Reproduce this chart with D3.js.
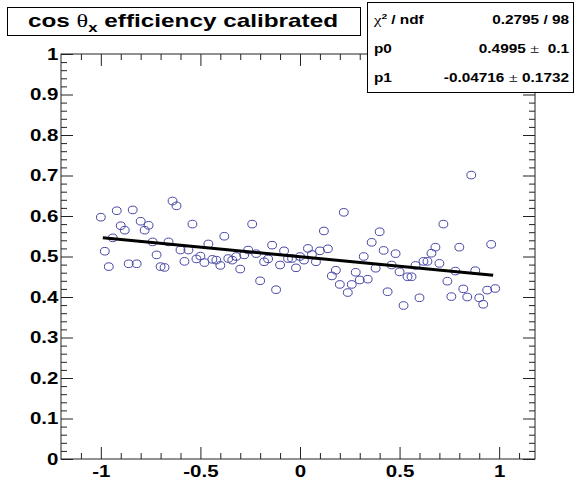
<!DOCTYPE html>
<html>
<head>
<meta charset="utf-8">
<script src="https://cdn.jsdelivr.net/npm/d3@7"></script>
<style>
    body { margin: 0; background: #fff; }
    text { font-family: "Liberation Sans", Arial, sans-serif; font-weight: bold; }
    .sym { font-family: "Liberation Serif", "DejaVu Serif", serif; font-weight: normal; }
</style>
</head>
<body>
<div id="chart"></div>
<script>
"use strict";

// efficiency points, x = cos(theta_x) bin centre
const xValues = [
    -1, -0.98, -0.96, -0.94, -0.92, -0.9, -0.88, -0.86, -0.84, -0.82,
    -0.8, -0.78, -0.76, -0.74, -0.72, -0.7, -0.68, -0.66, -0.64, -0.62,
    -0.6, -0.58, -0.56, -0.54, -0.52, -0.5, -0.48, -0.46, -0.44, -0.42,
    -0.4, -0.38, -0.36, -0.34, -0.32, -0.3, -0.28, -0.26, -0.24, -0.22,
    -0.2, -0.18, -0.16, -0.14, -0.12, -0.1, -0.08, -0.06, -0.04, -0.02,
    0, 0.02, 0.04, 0.06, 0.08, 0.1, 0.12, 0.14, 0.16, 0.18,
    0.2, 0.22, 0.24, 0.26, 0.28, 0.3, 0.32, 0.34, 0.36, 0.38,
    0.4, 0.42, 0.44, 0.46, 0.48, 0.5, 0.52, 0.54, 0.56, 0.58,
    0.6, 0.62, 0.64, 0.66, 0.68, 0.7, 0.72, 0.74, 0.76, 0.78,
    0.8, 0.82, 0.84, 0.86, 0.88, 0.9, 0.92, 0.94, 0.96, 0.98
];
const yValues = [
    0.597, 0.513, 0.475, 0.546, 0.613, 0.576, 0.565, 0.482, 0.615, 0.482,
    0.587, 0.565, 0.577, 0.536, 0.504, 0.475, 0.473, 0.536, 0.637, 0.625,
    0.516, 0.488, 0.516, 0.580, 0.494, 0.501, 0.485, 0.531, 0.493, 0.491,
    0.478, 0.550, 0.495, 0.491, 0.500, 0.469, 0.504, 0.516, 0.580, 0.507,
    0.440, 0.487, 0.494, 0.528, 0.418, 0.479, 0.514, 0.495, 0.495, 0.472,
    0.500, 0.491, 0.520, 0.505, 0.487, 0.514, 0.563, 0.519, 0.452, 0.466,
    0.431, 0.609, 0.411, 0.431, 0.461, 0.442, 0.500, 0.444, 0.535, 0.471,
    0.561, 0.515, 0.413, 0.479, 0.507, 0.462, 0.379, 0.450, 0.450, 0.478,
    0.398, 0.488, 0.488, 0.508, 0.523, 0.483, 0.580, 0.439, 0.401, 0.464,
    0.523, 0.420, 0.400, 0.701, 0.465, 0.398, 0.382, 0.417, 0.530, 0.421
];

// pol1 fit result
const fitParams = [0.4995, -0.04716];
const fitRange = [-0.99, 0.97];

const xTicks = [-1, -0.5, 0, 0.5, 1];
const xTickLabels = ["-1", "-0.5", "0", "0.5", "1"];
const yTicks = [0, 0.1, 0.2, 0.3, 0.4, 0.5, 0.6, 0.7, 0.8, 0.9, 1];
const yTickLabels = ["0", "0.1", "0.2", "0.3", "0.4", "0.5", "0.6", "0.7", "0.8", "0.9", "1"];

const statsRows = [
    { name: ["χ", "2", " / ndf"], value: "0.2795 / 98" },
    { name: ["p0"], value: ["0.4995", "  0.1"] },
    { name: ["p1"], value: ["-0.04716", " 0.1732"] }
];

const W = 577, H = 481;
const frame = { left: 61, right: 535, top: 54, bottom: 459 };
// the original canvas was stretched sideways, so glyphs are wider than tall
const stretch = 1.28;

const xScale = d3.scaleLinear()
                 .domain([-1.2, 1.18])
                 .range([frame.left, frame.right]);
const yScale = d3.scaleLinear()
                 .domain([0, 1])
                 .range([frame.bottom, frame.top]);

const svg = d3.select("#chart").append("svg")
              .attr("width", W)
              .attr("height", H);

svg.append("rect")
   .attr("width", W).attr("height", H)
   .attr("fill", "#fff");

const xMinor = d3.range(-11, 12).map(d => d / 10)
                 .filter(d => Math.abs(d * 2 - Math.round(d * 2)) > 1e-6);
const yMinor = d3.range(0, 51).map(d => d / 50)
                 .filter(d => Math.abs(d * 10 - Math.round(d * 10)) > 1e-6);

const styleAxis = g => {
    g.select(".domain").remove();
    g.selectAll("line").attr("stroke", "#222").attr("stroke-width", 1);
    g.selectAll("text")
     .attr("fill", "#000")
     .style("font-size", "16px")
     .attr("transform", `scale(${stretch}, 1)`);
};

// ticks drawn inward on all four sides, ROOT style
svg.append("g")
   .attr("transform", `translate(0, ${frame.bottom})`)
   .call(d3.axisBottom(xScale).tickValues(xTicks).tickSize(-12).tickPadding(7)
           .tickFormat((d, i) => xTickLabels[i]))
   .call(styleAxis);
svg.append("g")
   .attr("transform", `translate(0, ${frame.bottom})`)
   .call(d3.axisBottom(xScale).tickValues(xMinor).tickSize(-6).tickFormat(""))
   .call(styleAxis);
svg.append("g")
   .attr("transform", `translate(0, ${frame.top})`)
   .call(d3.axisTop(xScale).tickValues(xTicks).tickSize(-12).tickFormat(""))
   .call(styleAxis);
svg.append("g")
   .attr("transform", `translate(0, ${frame.top})`)
   .call(d3.axisTop(xScale).tickValues(xMinor).tickSize(-6).tickFormat(""))
   .call(styleAxis);

svg.append("g")
   .attr("transform", `translate(${frame.left}, 0)`)
   .call(d3.axisLeft(yScale).tickValues(yTicks).tickSize(-12).tickPadding(2)
           .tickFormat((d, i) => yTickLabels[i]))
   .call(styleAxis);
svg.append("g")
   .attr("transform", `translate(${frame.left}, 0)`)
   .call(d3.axisLeft(yScale).tickValues(yMinor).tickSize(-6).tickFormat(""))
   .call(styleAxis);
svg.append("g")
   .attr("transform", `translate(${frame.right}, 0)`)
   .call(d3.axisRight(yScale).tickValues(yTicks).tickSize(-12).tickFormat(""))
   .call(styleAxis);
svg.append("g")
   .attr("transform", `translate(${frame.right}, 0)`)
   .call(d3.axisRight(yScale).tickValues(yMinor).tickSize(-6).tickFormat(""))
   .call(styleAxis);

svg.append("rect")
   .attr("x", frame.left)
   .attr("y", frame.top)
   .attr("width", frame.right - frame.left)
   .attr("height", frame.bottom - frame.top)
   .attr("fill", "none")
   .attr("stroke", "#222")
   .attr("stroke-width", 1);

// markers
const points = xValues.map((x, i) => ({ x: x, y: yValues[i] }));
svg.append("g")
   .selectAll("ellipse")
   .data(points)
   .enter()
   .append("ellipse")
   .attr("cx", d => xScale(d.x))
   .attr("cy", d => yScale(d.y))
   .attr("rx", 4.4)
   .attr("ry", 3.8)
   .attr("fill", "none")
   .attr("stroke", "#4646a6")
   .attr("stroke-width", 1);

// fit line
const fit = x => fitParams[0] + fitParams[1] * x;
svg.append("path")
   .datum(fitRange)
   .attr("d", d3.line().x(d => xScale(d)).y(d => yScale(fit(d))))
   .attr("stroke", "#000")
   .attr("stroke-width", 3)
   .attr("fill", "none");

// title box
svg.append("rect")
   .attr("x", 7.5).attr("y", 7.5)
   .attr("width", 353).attr("height", 28)
   .attr("fill", "#fff")
   .attr("stroke", "#000")
   .attr("stroke-width", 1);
const title = svg.append("text")
                 .attr("transform", `translate(183, 27) scale(${stretch}, 1)`)
                 .attr("text-anchor", "middle")
                 .style("font-size", "19px");
title.append("tspan").text("cos ");
title.append("tspan").attr("class", "sym").text("θ");
title.append("tspan").attr("dy", 5).style("font-size", "13px").text("x");
title.append("tspan").attr("dy", -5).text(" efficiency calibrated");

// stats box
svg.append("rect")
   .attr("x", 367.5).attr("y", 2.5)
   .attr("width", 206).attr("height", 90)
   .attr("fill", "#fff")
   .attr("stroke", "#000")
   .attr("stroke-width", 1);

statsRows.forEach((row, i) => {
    const y = 24 + i * 29;
    const label = svg.append("text")
                     .attr("transform", `translate(374, ${y}) scale(${stretch}, 1)`)
                     .style("font-size", "12px");
    if (row.name.length > 1) {
        label.append("tspan").attr("class", "sym").style("font-size", "13px").text(row.name[0]);
        label.append("tspan").attr("dy", -5).style("font-size", "8px").text(row.name[1]);
        label.append("tspan").attr("dy", 5).text(row.name[2]);
    } else {
        label.text(row.name[0]);
    }
    const val = svg.append("text")
                   .attr("transform", `translate(569, ${y}) scale(${stretch}, 1)`)
                   .attr("text-anchor", "end")
                   .style("font-size", "12px")
                   .style("white-space", "pre");
    if (Array.isArray(row.value)) {
        val.append("tspan").text(row.value[0] + " ");
        val.append("tspan").attr("class", "sym").style("font-size", "13px").text("±");
        val.append("tspan").text(row.value[1]);
    } else {
        val.text(row.value);
    }
});
</script>
</body>
</html>
